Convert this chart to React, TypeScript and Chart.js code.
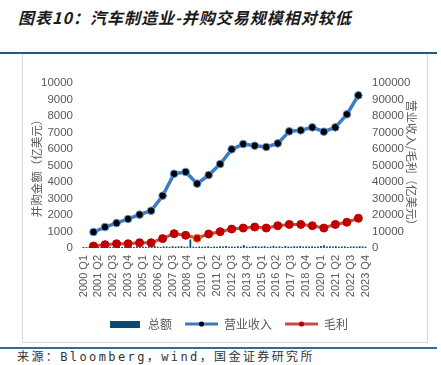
import React, { useEffect, useRef } from "react";
import { Chart, registerables } from "chart.js";

Chart.register(...registerables);

// ---------- data ----------
const years = [
  2000, 2001, 2002, 2003, 2004, 2005, 2006, 2007, 2008, 2009, 2010, 2011,
  2012, 2013, 2014, 2015, 2016, 2017, 2018, 2019, 2020, 2021, 2022, 2023,
];
const quarterNames = ["Q1", "Q2", "Q3", "Q4"];
const quarterLabels = years.flatMap((y) => quarterNames.map((q) => `${y} ${q}`));
const labelStep = 5;

// 并购金额（亿美元）, quarterly
const dealTotals = [
  60, 45, 80, 55, 70, 40, 65, 90, 50, 75,
  60, 85, 45, 70, 95, 55, 80, 60, 110, 70,
  85, 60, 95, 75, 120, 80, 65, 100, 90, 70,
  110, 85, 95, 120, 75, 90, 520, 80, 60, 95,
  70, 85, 110, 65, 90, 75, 100, 85, 120, 70,
  95, 80, 110, 90, 180, 85, 70, 100, 120, 80,
  95, 110, 75, 90, 130, 85, 100, 70, 115, 90,
  80, 105, 95, 120, 85, 100, 90, 110, 75, 95,
  120, 170, 85, 100, 90, 110, 80, 95, 105, 70,
  90, 100, 85, 110, 95, 80,
];

// 营业收入（亿美元）, annual
const revenue = [
  9700, 12700, 15100, 17600, 20200, 22600, 31700, 45000, 46100, 39000,
  44200, 50900, 59800, 63000, 62000, 61200, 63400, 70700, 71300, 73100,
  70500, 73100, 81000, 92500,
];

// 毛利（亿美元）, annual
const grossProfit = [
  1200, 2000, 2600, 2600, 3200, 3200, 5700, 8700, 7700, 5900,
  8500, 9900, 11500, 12100, 12700, 12100, 13500, 14300, 14300, 13500,
  12100, 14300, 15600, 18000,
];

const leftMax = 10000;
const leftStep = 1000;
const rightMax = 100000;
const rightStep = 10000;

// ---------- styles ----------
const NAVY = "#0C4A72";
const BLUE = "#3A7CC4";
const RED_LINE = "#C94A4A";
const RED_DOT = "#C00000";
const GRAY_TEXT = "#595959";
const LATIN = '"Liberation Sans", Arial, sans-serif';
const CJK = '"Noto Sans CJK SC", "Liberation Sans", sans-serif';

function makeLineIcon(line: string, dot: string) {
  const c = document.createElement("canvas");
  c.width = 33;
  c.height = 10;
  const ctx = c.getContext("2d")!;
  ctx.strokeStyle = line;
  ctx.lineWidth = 3;
  ctx.beginPath();
  ctx.moveTo(0, 5);
  ctx.lineTo(33, 5);
  ctx.stroke();
  ctx.fillStyle = dot;
  ctx.beginPath();
  ctx.arc(16.5, 5, 2.6, 0, Math.PI * 2);
  ctx.fill();
  return c;
}

function makeBoxIcon(color: string) {
  const c = document.createElement("canvas");
  c.width = 30;
  c.height = 7;
  const ctx = c.getContext("2d")!;
  ctx.fillStyle = color;
  ctx.fillRect(0, 0, 30, 7);
  return c;
}

export default function App() {
  const ref = useRef<HTMLCanvasElement>(null);

  useEffect(() => {
    const canvas = ref.current!;
    const boxIcon = makeBoxIcon(NAVY);
    const revIcon = makeLineIcon(BLUE, "#000000");
    const gpIcon = makeLineIcon(RED_LINE, RED_DOT);

    const gpBorder = grossProfit.map((_, i) => (i === 9 ? "#F08A24" : RED_DOT));

    const chart = new Chart(canvas, {
      type: "bar",
      data: {
        labels: quarterLabels,
        datasets: [
          {
            type: "bar",
            label: "总额",
            data: dealTotals,
            xAxisID: "x",
            yAxisID: "y",
            backgroundColor: NAVY,
            borderWidth: 0,
            barPercentage: 0.6,
            categoryPercentage: 1,
            minBarLength: 1,
            grouped: false,
            order: 3,
          } as any,
          {
            type: "line",
            label: "营业收入",
            data: years.map((_, i) => ({ x: i, y: revenue[i] })),
            xAxisID: "x2",
            yAxisID: "y1",
            borderColor: BLUE,
            borderWidth: 3.5,
            pointRadius: 3.8,
            pointBackgroundColor: "#000000",
            pointBorderColor: "#5A95D8",
            pointBorderWidth: 1,
            tension: 0,
            order: 1,
          } as any,
          {
            type: "line",
            label: "毛利",
            data: years.map((_, i) => ({ x: i, y: grossProfit[i] })),
            xAxisID: "x2",
            yAxisID: "y1",
            borderColor: RED_LINE,
            borderWidth: 3,
            pointRadius: 4,
            pointBackgroundColor: RED_DOT,
            pointBorderColor: gpBorder,
            pointBorderWidth: 1,
            tension: 0,
            order: 2,
          } as any,
        ],
      },
      options: {
        responsive: false,
        animation: false,
        devicePixelRatio: 1,
        layout: { padding: { top: 30, left: 8, right: 0, bottom: 3 } },
        plugins: {
          tooltip: { enabled: false },
          title: { display: false },
          legend: {
            display: true,
            position: "bottom",
            labels: {
              usePointStyle: true,
              pointStyleWidth: 33,
              padding: 13,
              color: GRAY_TEXT,
              font: { family: CJK, size: 12 },
              generateLabels: () => [
                { text: "总额", pointStyle: boxIcon as any, datasetIndex: 0, fillStyle: NAVY, strokeStyle: NAVY, lineWidth: 0, hidden: false, fontColor: GRAY_TEXT },
                { text: "营业收入", pointStyle: revIcon as any, datasetIndex: 1, fillStyle: BLUE, strokeStyle: BLUE, lineWidth: 0, hidden: false, fontColor: GRAY_TEXT },
                { text: "毛利", pointStyle: gpIcon as any, datasetIndex: 2, fillStyle: RED_LINE, strokeStyle: RED_LINE, lineWidth: 0, hidden: false, fontColor: GRAY_TEXT },
              ] as any,
            },
          },
        },
        scales: {
          x: {
            type: "category",
            offset: true,
            grid: { display: false, drawTicks: false },
            border: { display: false },
            afterFit: (s: any) => {
              s.height = 57;
            },
            ticks: {
              autoSkip: false,
              minRotation: 90,
              maxRotation: 90,
              padding: 7,
              color: GRAY_TEXT,
              font: { family: LATIN, size: 11 },
              callback: (_v: any, i: number) => (i % labelStep === 0 ? quarterLabels[i] : ""),
            },
          },
          x2: {
            type: "linear",
            display: false,
            offset: false,
            bounds: "ticks",
            min: -1,
            max: 23.75,
            grid: { offset: false },
          },
          y: {
            position: "left",
            min: 0,
            max: leftMax,
            grid: { display: false, drawTicks: false },
            border: { display: false },
            afterFit: (s: any) => {
              s.width = 52;
            },
            ticks: {
              stepSize: leftStep,
              autoSkip: false,
              padding: 9,
              color: GRAY_TEXT,
              font: { family: LATIN, size: 11.5 },
              callback: (v: any) => String(v),
            },
            title: {
              display: true,
              text: "并购金额（亿美元）",
              color: GRAY_TEXT,
              font: { family: CJK, size: 11.5 },
              padding: { top: 0, bottom: 0 },
            },
          },
          y1: {
            position: "right",
            min: 0,
            max: rightMax,
            grid: { display: false, drawTicks: false },
            border: { display: false },
            afterFit: (s: any) => {
              s.width = 60;
            },
            ticks: {
              stepSize: rightStep,
              autoSkip: false,
              padding: 5,
              color: GRAY_TEXT,
              font: { family: LATIN, size: 11.5 },
              callback: (v: any) => String(v),
            },
            title: {
              display: true,
              text: "营业收入/毛利（亿美元）",
              color: GRAY_TEXT,
              font: { family: CJK, size: 11.5 },
              padding: { top: 9, bottom: 0 },
            },
          },
        },
      } as any,
    });
    return () => chart.destroy();
  }, []);

  return (
    <div
      style={{
        position: "absolute",
        left: 0,
        top: 0,
        width: 441,
        height: 365,
        background: "#ffffff",
        overflow: "hidden",
      }}
    >
      <div
        style={{
          position: "absolute",
          left: 18,
          top: 5,
          fontFamily: CJK,
          fontWeight: 700,
          fontStyle: "italic",
          fontSize: 16,
          letterSpacing: 1,
          color: "#1a1a1a",
          whiteSpace: "nowrap",
          lineHeight: "24px",
        }}
      >
        图表10：汽车制造业-并购交易规模相对较低
      </div>
      <div
        style={{
          position: "absolute",
          left: 0,
          top: 52,
          width: 437,
          height: 2,
          background: "#1F5A86",
        }}
      />
      <div
        style={{
          position: "absolute",
          left: 22,
          top: 54,
          width: 404,
          height: 288,
          border: "1px solid #D9D9D9",
          borderTop: "none",
        }}
      />
      <canvas
        ref={ref}
        width={405}
        height={290}
        style={{ position: "absolute", left: 22, top: 53, width: 405, height: 290 }}
      />
      <div
        style={{
          position: "absolute",
          left: 0,
          top: 347,
          width: 437,
          height: 2,
          background: "#2E6A9A",
        }}
      />
      <div
        style={{
          position: "absolute",
          left: 17,
          top: 349,
          fontFamily: '"DejaVu Sans Mono", "Noto Sans CJK SC", monospace',
          fontSize: 12,
          letterSpacing: 2.4,
          color: "#333333",
          whiteSpace: "nowrap",
          lineHeight: "16px",
        }}
      >
        来源：Bloomberg，wind，国金证券研究所
      </div>
    </div>
  );
}
